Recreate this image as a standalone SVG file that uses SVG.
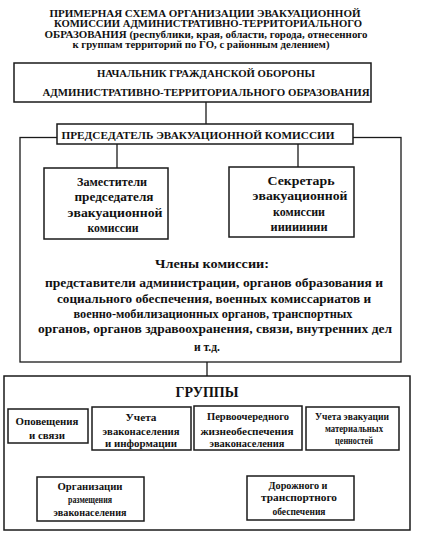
<svg xmlns="http://www.w3.org/2000/svg" width="423" height="547" viewBox="0 0 423 547">
<style>
text{font-family:"Liberation Serif","Times New Roman",serif;font-weight:bold;fill:#111;text-anchor:middle}
.box{fill:#fff;stroke:#1a1a1a;stroke-width:1.5}
.line{stroke:#1a1a1a;stroke-width:1.3;fill:none}
.t9{font-size:9.5px}.t11{font-size:11px}.t12{font-size:12px}.t13{font-size:13px}.t10{font-size:10px}.t15{font-size:15px}
</style>
<rect width="423" height="547" fill="#fff"/>
<g id="title" class="t9">
<text x="205" y="16.5" textLength="311" lengthAdjust="spacingAndGlyphs">ПРИМЕРНАЯ СХЕМА ОРГАНИЗАЦИИ ЭВАКУАЦИОННОЙ</text>
<text x="208" y="27" textLength="308" lengthAdjust="spacingAndGlyphs">КОМИССИИ АДМИНИСТРАТИВНО-ТЕРРИТОРИАЛЬНОГО</text>
<text x="206" y="37.5" textLength="323" lengthAdjust="spacingAndGlyphs">ОБРАЗОВАНИЯ (республики, края, области, города, отнесенного</text>
<text x="201" y="48" textLength="257" lengthAdjust="spacingAndGlyphs">к группам территорий по ГО,  с районным делением)</text>
</g>
<g id="connectors">
<line class="line" x1="206" y1="102" x2="206" y2="124"/>
<rect class="line" x="20" y="137.5" width="381" height="224.5"/>
<line class="line" x1="117" y1="144" x2="117" y2="168"/>
<line class="line" x1="298" y1="144" x2="298" y2="167"/>
<line class="line" x1="207" y1="362" x2="207" y2="376"/>
</g>
<g id="chief">
<rect class="box" x="14" y="63" width="357" height="39"/>
<text class="t11" x="206" y="77" textLength="218" lengthAdjust="spacingAndGlyphs">НАЧАЛЬНИК ГРАЖДАНСКОЙ ОБОРОНЫ</text>
<text class="t11" x="206" y="96" textLength="327" lengthAdjust="spacingAndGlyphs">АДМИНИСТРАТИВНО-ТЕРРИТОРИАЛЬНОГО ОБРАЗОВАНИЯ</text>
</g>
<g id="chairman">
<rect class="box" x="57" y="124" width="296" height="20"/>
<text class="t11" x="198" y="138.5" textLength="273" lengthAdjust="spacingAndGlyphs">ПРЕДСЕДАТЕЛЬ ЭВАКУАЦИОННОЙ КОМИССИИ</text>
</g>
<g id="deputies" class="t13">
<rect class="box" x="44" y="168" width="124" height="71"/>
<text x="112" y="186" textLength="70" lengthAdjust="spacingAndGlyphs">Заместители</text>
<text x="114" y="201" textLength="79" lengthAdjust="spacingAndGlyphs">председателя</text>
<text x="115" y="217" textLength="95" lengthAdjust="spacingAndGlyphs">эвакуационной</text>
<text x="113" y="232" textLength="51" lengthAdjust="spacingAndGlyphs">комиссии</text>
</g>
<g id="secretary" class="t13">
<rect class="box" x="229" y="167" width="125" height="70"/>
<text x="301" y="185" textLength="67" lengthAdjust="spacingAndGlyphs">Секретарь</text>
<text x="300" y="200" textLength="95" lengthAdjust="spacingAndGlyphs">эвакуационной</text>
<text x="299" y="216" textLength="52" lengthAdjust="spacingAndGlyphs">комиссии</text>
<text x="299" y="231" textLength="57" lengthAdjust="spacingAndGlyphs">ииииииии</text>
</g>
<g id="members" class="t12">
<text x="212" y="268" textLength="114" lengthAdjust="spacingAndGlyphs">Члены комиссии:</text>
<text x="214" y="287" textLength="338" lengthAdjust="spacingAndGlyphs">представители администрации, органов образования и</text>
<text x="214" y="303" textLength="314" lengthAdjust="spacingAndGlyphs">социального обеспечения, военных комиссариатов и</text>
<text x="213" y="318" textLength="279" lengthAdjust="spacingAndGlyphs">военно-мобилизационных органов, транспортных</text>
<text x="215" y="333" textLength="354" lengthAdjust="spacingAndGlyphs">органов, органов здравоохранения, связи, внутренних дел</text>
<text x="207" y="351" textLength="26" lengthAdjust="spacingAndGlyphs">и т.д.</text>
</g>
<g id="groups">
<rect class="box" x="4" y="376" width="406" height="154"/>
<text class="t15" x="207" y="397" textLength="63" lengthAdjust="spacingAndGlyphs">ГРУППЫ</text>
</g>
<g id="g-notify" class="t10">
<rect class="box" x="8" y="409" width="80" height="34"/>
<text x="47" y="425" textLength="63" lengthAdjust="spacingAndGlyphs">Оповещения</text>
<text x="47" y="439" textLength="36" lengthAdjust="spacingAndGlyphs">и связи</text>
</g>
<g id="g-accounting" class="t10">
<rect class="box" x="92" y="407" width="99" height="43"/>
<text x="141" y="421" textLength="31" lengthAdjust="spacingAndGlyphs">Учета</text>
<text x="141" y="435" textLength="77" lengthAdjust="spacingAndGlyphs">эваконаселения</text>
<text x="141" y="447" textLength="72" lengthAdjust="spacingAndGlyphs">и информации</text>
</g>
<g id="g-life" class="t10">
<rect class="box" x="194" y="406" width="108" height="44"/>
<text x="248" y="420" textLength="82" lengthAdjust="spacingAndGlyphs">Первоочередного</text>
<text x="247" y="435" textLength="93" lengthAdjust="spacingAndGlyphs">жизнеобеспечения</text>
<text x="247" y="447" textLength="75" lengthAdjust="spacingAndGlyphs">эваконаселения</text>
</g>
<g id="g-values" class="t10">
<rect class="box" x="306" y="407" width="93" height="43"/>
<text x="352" y="420" textLength="74" lengthAdjust="spacingAndGlyphs">Учета эвакуации</text>
<text x="354" y="432" textLength="58" lengthAdjust="spacingAndGlyphs">материальных</text>
<text x="354" y="444" textLength="38" lengthAdjust="spacingAndGlyphs">ценностей</text>
</g>
<g id="g-placement" class="t10">
<rect class="box" x="37" y="477" width="107" height="44"/>
<text x="90" y="490" textLength="65" lengthAdjust="spacingAndGlyphs">Организации</text>
<text x="90" y="503" textLength="44" lengthAdjust="spacingAndGlyphs">размещения</text>
<text x="90" y="516" textLength="73" lengthAdjust="spacingAndGlyphs">эваконаселения</text>
</g>
<g id="g-transport" class="t10">
<rect class="box" x="247" y="476" width="107" height="44"/>
<text x="298" y="489" textLength="59" lengthAdjust="spacingAndGlyphs">Дорожного и</text>
<text x="299" y="501" textLength="76" lengthAdjust="spacingAndGlyphs">транспортного</text>
<text x="299" y="515" textLength="53" lengthAdjust="spacingAndGlyphs">обеспечения</text>
</g>
</svg>
